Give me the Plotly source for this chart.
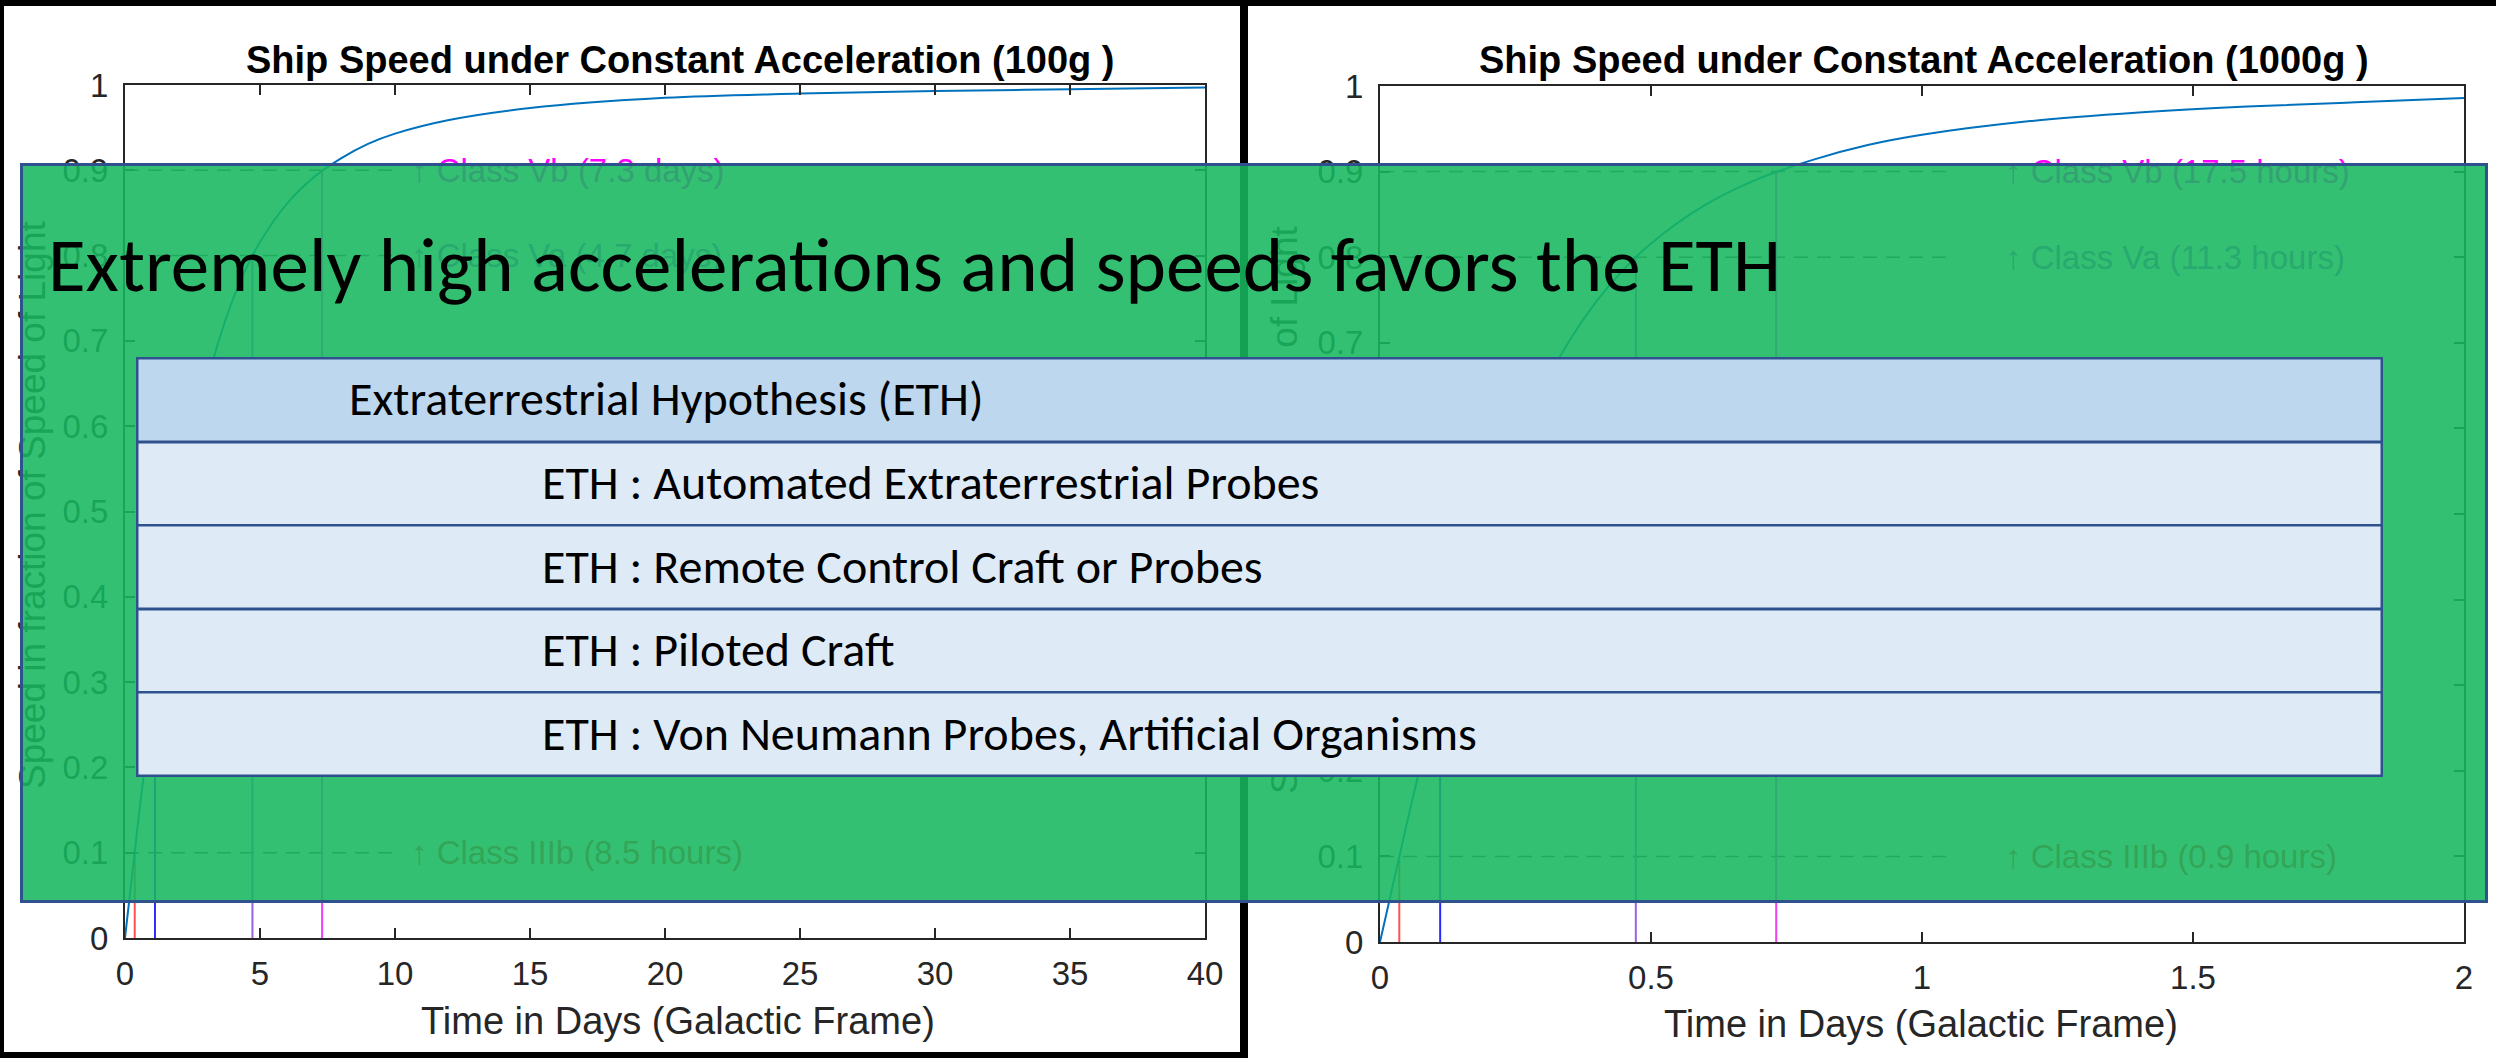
import plotly.graph_objects as go

W, H = 2496, 1058

# speed curves (fraction of c)
t_100g = [0, 0.5, 1, 1.5, 2, 2.5, 3, 3.5, 4, 4.5, 5, 6, 7, 8, 9, 10, 12, 15, 20, 25, 30, 35, 40]
v_100g = [0, 0.140, 0.272, 0.390, 0.492, 0.577, 0.646, 0.703, 0.749, 0.786, 0.816, 0.861,
          0.892, 0.914, 0.931, 0.943, 0.959, 0.973, 0.985, 0.990, 0.993, 0.995, 0.997]
t_1000g = [0, 0.05, 0.1, 0.15, 0.2, 0.25, 0.3, 0.35, 0.4, 0.45, 0.5, 0.6, 0.7, 0.8, 0.9,
           1.0, 1.2, 1.4, 1.6, 1.8, 2.0]
v_1000g = [0, 0.140, 0.272, 0.390, 0.492, 0.577, 0.646, 0.703, 0.749, 0.786, 0.816, 0.861,
           0.892, 0.914, 0.931, 0.943, 0.959, 0.969, 0.976, 0.981, 0.986]

# class markers: speed reached and time to reach it
class_speed = [0.1, 0.3, 0.8, 0.9]
class_t_100g = [0.36, 1.11, 4.72, 7.3]
class_t_1000g = [0.0356, 0.111, 0.472, 0.731]
class_colors = ['#FF5050', '#2A2AFF', '#9A62E0', '#F040F0']

label_speed = [0.9, 0.8, 0.1]
labels_100g = ['↑ Class Vb (7.3 days)', '↑ Class Va (4.7 days)', '↑ Class IIIb (8.5 hours)']
labels_1000g = ['↑ Class Vb (17.5 hours)', '↑ Class Va (11.3 hours)', '↑ Class IIIb (0.9 hours)']
label_colors = ['#FF00FF', '#9A40E0', '#FF2020']

table_rows = [
    'Extraterrestrial Hypothesis (ETH)',
    'ETH : Automated Extraterrestrial Probes',
    'ETH : Remote Control Craft or Probes',
    'ETH : Piloted Craft',
    'ETH : Von Neumann Probes, Artificial Organisms',
]
headline = 'Extremely high accelerations and speeds favors the ETH'


def px(x):
    return x / W


def py(y):
    return 1 - y / H


AX_FONT = 'Liberation Sans, Arial, Helvetica, sans-serif'
OV_FONT = 'Carlito, Lato, sans-serif'
AX_COL = '#262626'

fig = go.Figure()

panels = [
    dict(xa='x', ya='y', t=t_100g, v=v_100g, ct=class_t_100g, labels=labels_100g,
         dash_end=10, label_x=10.5),
    dict(xa='x2', ya='y2', t=t_1000g, v=v_1000g, ct=class_t_1000g, labels=labels_1000g,
         dash_end=1.05, label_x=1.15),
]

for p in panels:
    # dashed guide lines
    for s in label_speed:
        fig.add_trace(go.Scatter(
            x=[0, p['dash_end']], y=[s, s], mode='lines', xaxis=p['xa'], yaxis=p['ya'],
            line=dict(color='#505050', width=1.5, dash='14px,9px'), hoverinfo='skip'
        ))
    # vertical markers
    for tc, s, col in zip(p['ct'], class_speed, class_colors):
        fig.add_trace(go.Scatter(
            x=[tc, tc], y=[0, s], mode='lines', xaxis=p['xa'], yaxis=p['ya'],
            line=dict(color=col, width=2), hoverinfo='skip'
        ))
    fig.add_trace(go.Scatter(
        x=p['t'], y=p['v'], mode='lines', line_shape='spline', xaxis=p['xa'], yaxis=p['ya'],
        line=dict(color='#0072BD', width=2)
    ))

axis_style = dict(
    showline=True, linecolor=AX_COL, linewidth=2, mirror='ticks',
    ticks='inside', ticklen=10, tickwidth=1.5, tickcolor=AX_COL,
    showgrid=False, zeroline=False, automargin=False,
    tickfont=dict(family=AX_FONT, size=33, color=AX_COL),
)

fig.update_layout(
    width=W, height=H, autosize=False,
    margin=dict(l=0, r=0, t=0, b=0, pad=0, autoexpand=False),
    paper_bgcolor='black',
    plot_bgcolor='white',
    showlegend=False,
    xaxis=dict(domain=[px(125), px(1205)], range=[0, 40], tick0=0, dtick=5, anchor='y',
               ticklabelstandoff=5, **axis_style),
    yaxis=dict(domain=[py(938), py(85)], range=[0, 1], tick0=0, dtick=0.1, anchor='x',
               ticklabelstandoff=8, **axis_style),
    xaxis2=dict(domain=[px(1380), px(2464)], range=[0, 2], tick0=0, dtick=0.5, anchor='y2',
                ticklabelstandoff=5, **axis_style),
    yaxis2=dict(domain=[py(942), py(86)], range=[0, 1], tick0=0, dtick=0.1, anchor='x2',
                ticklabelstandoff=8, **axis_style),
)

# white figure panels on the black slide
fig.add_shape(type='rect', xref='paper', yref='paper', layer='below',
              x0=px(4), x1=px(1240), y0=py(1052), y1=py(6),
              fillcolor='white', line_width=0)
fig.add_shape(type='rect', xref='paper', yref='paper', layer='below',
              x0=px(1248), x1=1, y0=0, y1=py(6),
              fillcolor='white', line_width=0)

ann = []

# plot texts (drawn first so the overlay sits above them)
for p, title, cx, ylab_x, ylab_y, xlab_y in [
    (panels[0], 'Ship Speed under Constant Acceleration (100g )', 681, 32, 505, 1021),
    (panels[1], 'Ship Speed under Constant Acceleration (1000g )', 1924, 1285, 510, 1024),
]:
    ann.append(dict(text='<b>' + title + '</b>', x=px(cx), y=py(60), xref='paper', yref='paper',
                    xanchor='center', yanchor='middle', showarrow=False,
                    font=dict(family=AX_FONT, size=38, color='black')))
    ann.append(dict(text='Time in Days (Galactic Frame)', x=px(cx - 3), y=py(xlab_y),
                    xref='paper', yref='paper', xanchor='center', yanchor='middle',
                    showarrow=False, font=dict(family=AX_FONT, size=38, color=AX_COL)))
    ann.append(dict(text='Speed in fraction of Speed of Light', x=px(ylab_x), y=py(ylab_y),
                    xref='paper', yref='paper', xanchor='center', yanchor='middle',
                    textangle=-90, showarrow=False,
                    font=dict(family=AX_FONT, size=37, color=AX_COL)))
    for s, txt, col in zip(label_speed, p['labels'], label_colors):
        ann.append(dict(text=txt, x=p['label_x'], y=s, xref=p['xa'], yref=p['ya'],
                        xanchor='left', yanchor='middle', showarrow=False,
                        font=dict(family=AX_FONT, size=33, color=col)))

# green overlay box
bw = 3
ann.append(dict(text=' ', x=px(20), y=py(163), xref='paper', yref='paper',
                xanchor='left', yanchor='top', showarrow=False,
                width=2468 - 2 * bw, height=740 - 2 * bw, borderpad=0, borderwidth=bw,
                bgcolor='rgba(23,183,95,0.88)', bordercolor='#2F528F'))

# table
tb_left, tb_right, tb_top, row_h = 136, 2383, 357, 83.6
tbw = 2.5
for i, row in enumerate(table_rows):
    top = tb_top + i * row_h
    ann.append(dict(text=' ', x=px(tb_left), y=py(top), xref='paper', yref='paper',
                    xanchor='left', yanchor='top', showarrow=False,
                    width=(tb_right - tb_left) - 2 * tbw, height=row_h - tbw,
                    borderpad=0, borderwidth=tbw, bordercolor='#2F528F',
                    bgcolor='#BDD7EE' if i == 0 else '#DEEBF7'))
for i, row in enumerate(table_rows):
    cy = tb_top + (i + 0.5) * row_h
    ann.append(dict(text=row, x=px(347 if i == 0 else 540), y=py(cy), xref='paper',
                    yref='paper', xanchor='left', yanchor='middle', showarrow=False,
                    font=dict(family=OV_FONT, size=48, color='black')))

ann.append(dict(text=headline, x=px(46), y=py(265), xref='paper', yref='paper',
                xanchor='left', yanchor='middle', showarrow=False,
                font=dict(family=OV_FONT, size=77, color='black')))

fig.update_layout(annotations=ann)

# drop the default page margin so the figure sits at the window corner
fig.write_html(
    "out.html",
    config={'displayModeBar': False},
    post_script="document.body.style.margin='0';document.body.style.overflow='hidden';",
)
